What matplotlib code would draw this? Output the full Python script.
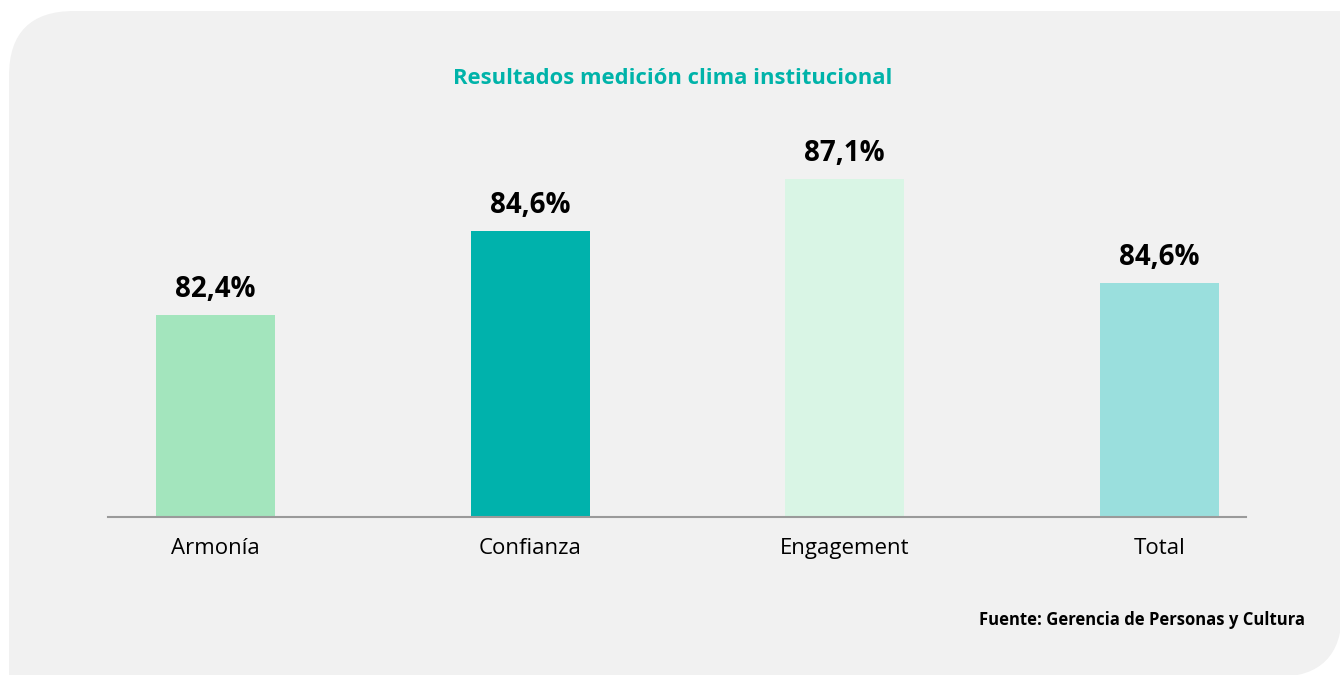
import matplotlib
matplotlib.use("Agg")
import matplotlib.pyplot as plt
from matplotlib.patches import FancyBboxPatch, Rectangle

# ---- data ----
categories = ["Armonía", "Confianza", "Engagement", "Total"]
value_labels = ["82,4%", "84,6%", "87,1%", "84,6%"]
# bar heights as drawn in the reference (the axis does not start at zero)
bar_heights = [82.4, 84.6, 85.96, 83.24]
bar_colors = ["#A3E5BD", "#00B2AC", "#D9F5E5", "#9ADFDD"]
title = "Resultados medición clima institucional"
source = "Fuente: Gerencia de Personas y Cultura"

plt.rcParams['font.family'] = ['Open Sans', 'DejaVu Sans']

fig = plt.figure(figsize=(13.4, 6.75), dpi=100)
fig.patch.set_facecolor("white")

panel_color = "#F1F1F1"
# rounded panel (inches coordinates)
L, B, R, T = 0.09, -0.02, 13.42, 6.64
box = FancyBboxPatch((L, B), R - L, T - B, boxstyle="round,pad=0,rounding_size=0.65",
                     transform=fig.dpi_scale_trans, facecolor=panel_color,
                     edgecolor="none", zorder=-5)
fig.patches.append(box)
# square off top-right and bottom-left corners
fig.patches.append(Rectangle((R - 1.0, T - 1.0), 1.0, 1.0, transform=fig.dpi_scale_trans,
                             facecolor=panel_color, edgecolor="none", zorder=-5))
fig.patches.append(Rectangle((L, B), 1.0, 1.0, transform=fig.dpi_scale_trans,
                             facecolor=panel_color, edgecolor="none", zorder=-5))

ax = fig.add_axes([108 / 1340, 1 - 517 / 675, (1246 - 108) / 1340, (517 - 100) / 675])
ax.set_facecolor("none")

x = list(range(len(categories)))
bars = ax.bar(x, bar_heights, width=0.378, color=bar_colors, bottom=0, zorder=2)
ax.set_xlim(-0.341, 3.275)
ax.set_ylim(77.109, 88.03)

for xi, h, lab in zip(x, bar_heights, value_labels):
    ax.annotate(lab, (xi, h), xytext=(0, 8), textcoords="offset points",
                ha="center", va="bottom", fontsize=20, fontweight="bold", color="#000000")

for s in ["top", "right", "left"]:
    ax.spines[s].set_visible(False)
ax.spines["bottom"].set_color("#9A9A9A")
ax.spines["bottom"].set_linewidth(1.5)
ax.set_yticks([])
ax.set_xticks(x)
ax.set_xticklabels(categories, fontsize=16, color="#000000")
ax.tick_params(axis="x", length=0, pad=15)

fig.text(673 / 1340, 1 - 78 / 675, title, ha="center", va="center",
         fontsize=15.8, fontweight="bold", color="#00B3A9")
fig.text(1305 / 1340, 1 - 620 / 675, source, ha="right", va="center",
         fontsize=12, fontweight="bold", color="#000000")

fig.savefig("out.png", dpi=100, facecolor=fig.get_facecolor())
